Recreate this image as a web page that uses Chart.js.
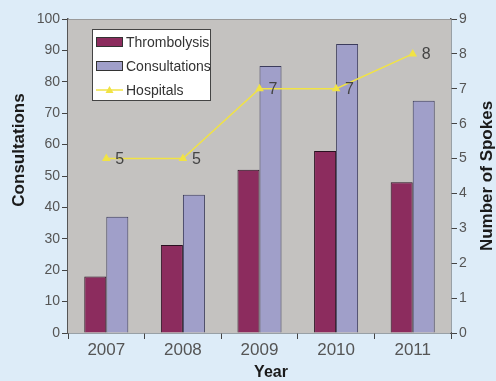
<!DOCTYPE html>
<html>
<head>
<meta charset="utf-8">
<script src="https://cdn.jsdelivr.net/npm/chart.js@4"></script>
<style>
  html, body { margin: 0; padding: 0; background: #ddecf8; }
  #wrap { width: 496px; height: 381px; }
</style>
</head>
<body>
<div id="wrap"><canvas id="c" width="496" height="381"></canvas></div>
<script>
// Stroke program figures per year
const years = ['2007', '2008', '2009', '2010', '2011'];
const thrombolysis = [18, 28, 52, 58, 48];
const consultations = [37, 44, 85, 92, 74];
const hospitals = [5, 5, 7, 7, 8];

const seriesNames = ['Thrombolysis', 'Consultations', 'Hospitals'];
const leftTitle = 'Consultations';
const rightTitle = 'Number of Spokes';
const bottomTitle = 'Year';

const FONT = '"Liberation Sans", Arial, sans-serif';
const NARROW = '"Liberation Sans Narrow", "Arial Narrow", "Liberation Sans", Arial, sans-serif';

const COL_THROMB = '#8c2c5e';
const COL_CONS = '#a09fc9';
const COL_LINE = '#f1e344';
const COL_PLOT = '#c4c2c0';

// Gray plot area, axis titles, value labels and the inset legend
const decor = {
  id: 'decor',
  beforeDatasetsDraw(chart) {
    const { ctx, chartArea: a } = chart;
    ctx.save();
    ctx.fillStyle = COL_PLOT;
    ctx.fillRect(a.left, a.top, a.right - a.left, a.bottom - a.top);
    ctx.strokeStyle = '#9a9a9a';
    ctx.lineWidth = 1;
    ctx.beginPath();
    ctx.moveTo(a.left, a.top + 0.5);
    ctx.lineTo(a.right, a.top + 0.5);
    ctx.stroke();
    ctx.restore();
  },
  afterDraw(chart) {
    const { ctx, chartArea: a } = chart;
    ctx.save();
    // axis titles
    ctx.fillStyle = '#1a1a1a';
    ctx.font = 'bold 17px ' + FONT;
    ctx.textAlign = 'center';
    ctx.textBaseline = 'middle';
    ctx.save();
    ctx.translate(19, 150);
    ctx.rotate(-Math.PI / 2);
    ctx.fillText(leftTitle, 0, 0);
    ctx.restore();
    ctx.save();
    ctx.translate(487, 176);
    ctx.rotate(-Math.PI / 2);
    ctx.fillText(rightTitle, 0, 0);
    ctx.restore();
    ctx.font = 'bold 16px ' + FONT;
    ctx.fillText(bottomTitle, 271, 373);

    // value labels next to the line points
    const meta = chart.getDatasetMeta(2);
    ctx.font = '16px ' + FONT;
    ctx.fillStyle = '#444';
    ctx.textAlign = 'left';
    meta.data.forEach((pt, i) => {
      ctx.fillText(String(hospitals[i]), pt.x + 9, pt.y + 1);
    });

    // legend box
    const lx = 92, ly = 29, lw = 119, lh = 72;
    ctx.fillStyle = '#ffffff';
    ctx.fillRect(lx, ly, lw, lh);
    ctx.strokeStyle = '#444';
    ctx.lineWidth = 1;
    ctx.strokeRect(lx + 0.5, ly + 0.5, lw - 1, lh - 1);
    ctx.font = '14px ' + NARROW;
    const rows = [ly + 13, ly + 37, ly + 61];
    // bar swatches
    [[COL_THROMB, rows[0]], [COL_CONS, rows[1]]].forEach(([c, y]) => {
      ctx.fillStyle = c;
      ctx.fillRect(96, y - 5, 27, 10);
      ctx.strokeStyle = '#333';
      ctx.strokeRect(96.5, y - 4.5, 26, 9);
    });
    // line swatch
    ctx.strokeStyle = COL_LINE;
    ctx.lineWidth = 1.5;
    ctx.beginPath();
    ctx.moveTo(96, rows[2]);
    ctx.lineTo(123, rows[2]);
    ctx.stroke();
    ctx.fillStyle = COL_LINE;
    ctx.beginPath();
    ctx.moveTo(109.5, rows[2] - 4);
    ctx.lineTo(113.5, rows[2] + 3);
    ctx.lineTo(105.5, rows[2] + 3);
    ctx.closePath();
    ctx.fill();
    ctx.fillStyle = '#333';
    seriesNames.forEach((n, i) => ctx.fillText(n, 126, rows[i] + 1));
    ctx.restore();
  }
};

new Chart(document.getElementById('c'), {
  type: 'bar',
  data: {
    labels: years,
    datasets: [
      {
        label: seriesNames[0], data: thrombolysis, yAxisID: 'y',
        backgroundColor: COL_THROMB, borderColor: '#2a1020', borderWidth: 1,
        categoryPercentage: 0.575, barPercentage: 1, order: 2
      },
      {
        label: seriesNames[1], data: consultations, yAxisID: 'y',
        backgroundColor: COL_CONS, borderColor: '#3c3c5c', borderWidth: 1,
        categoryPercentage: 0.575, barPercentage: 1, order: 2
      },
      {
        type: 'line', label: seriesNames[2], data: hospitals, yAxisID: 'y2',
        borderColor: COL_LINE, backgroundColor: COL_LINE, borderWidth: 1.5,
        pointStyle: 'triangle', pointRadius: 5, pointBorderWidth: 0,
        tension: 0, order: 0
      }
    ]
  },
  options: {
    responsive: false,
    animation: false,
    layout: { padding: { top: 19, right: 0, left: 0, bottom: 0 } },
    plugins: { legend: { display: false }, tooltip: { enabled: false } },
    scales: {
      x: {
        grid: { offset: true, drawOnChartArea: false, tickLength: 6, color: '#444' },
        border: { color: '#555', width: 1.5 },
        ticks: { color: '#555', font: { family: FONT, size: 17 }, padding: 1 },
        afterFit(s) { s.height = 48; }
      },
      y: {
        position: 'left', min: 0, max: 100,
        ticks: { stepSize: 10, color: '#555', font: { family: FONT, size: 14 }, padding: 2 },
        grid: { drawOnChartArea: false, tickLength: 6, color: '#444' },
        border: { color: '#555', width: 1.5 },
        afterFit(s) { s.width = 68; }
      },
      y2: {
        position: 'right', min: 0, max: 9,
        ticks: { stepSize: 1, color: '#555', font: { family: FONT, size: 14 }, padding: 2 },
        grid: { drawOnChartArea: false, tickLength: 6, color: '#444' },
        border: { color: '#555', width: 1.5 },
        afterFit(s) { s.width = 45; }
      }
    }
  },
  plugins: [decor]
});
</script>
</body>
</html>
